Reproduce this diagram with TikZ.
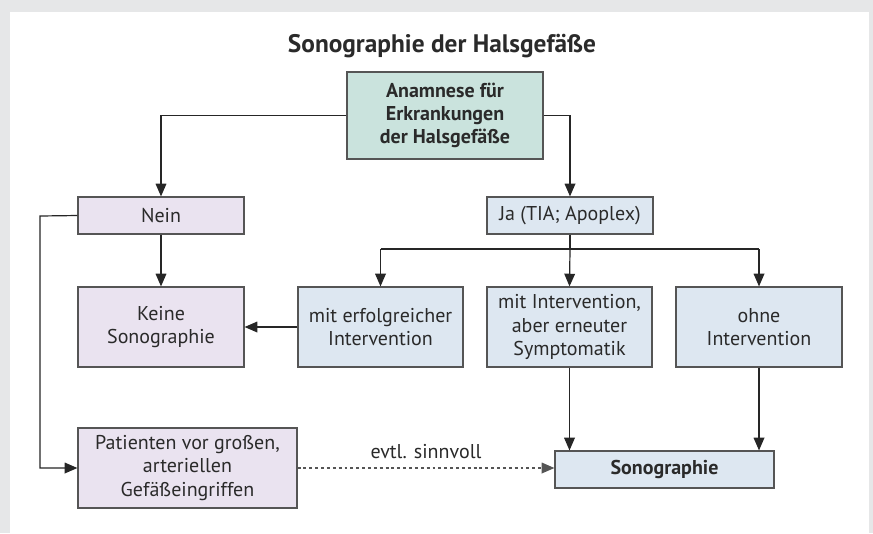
\documentclass[tikz,border=0pt]{standalone}
\usepackage{fontspec}
\setmainfont{PT Sans}
\usetikzlibrary{arrows.meta,calc}
\definecolor{bggray}{HTML}{E6E7E8}
\definecolor{tealbox}{HTML}{CAE3DD}
\definecolor{lavbox}{HTML}{EAE3F0}
\definecolor{bluebox}{HTML}{DDE7F1}
\definecolor{txt}{HTML}{2A2A2A}
\definecolor{edge}{HTML}{555555}
\definecolor{figblue}{HTML}{1A7DC0}
\tikzset{
  boxfont/.style={font=\fontsize{15}{17.5}\selectfont},
  box/.style={draw=edge, line width=0.9pt, align=center, text=txt, inner sep=0pt, boxfont},
  lav/.style={box, fill=lavbox},
  blu/.style={box, fill=bluebox},
  conn/.style={draw=txt!90!black, line width=0.9pt},
  arr/.style={conn, -{Triangle[length=9.5pt,width=8pt]}},
}
\begin{document}
\begin{tikzpicture}[x=0.75pt,y=-0.75pt]
\useasboundingbox (0,0) rectangle (873,533);
\fill[bggray] (0,0) rectangle (873,533);
\fill[white] (10,12) rectangle (869,533);
% cropped caption fragment
\draw[figblue, line width=1.4pt] (91,-1) arc[start angle=180,end angle=360,x radius=5,y radius=3.5];
% title
\node[text=txt, font=\fontsize{19}{22}\selectfont\bfseries] (title) at (442,46) {Sonographie der Halsgefäße};
% boxes
\node[box, fill=tealbox, minimum width=196*0.75pt, minimum height=87*0.75pt, font=\fontsize{15}{17.5}\selectfont\bfseries] (an) at (445,115.5) {Anamnese für\\Erkrankungen\\der Halsgefäße};
\node[lav, minimum width=166*0.75pt, minimum height=37*0.75pt] (nein) at (161,215.5) {Nein};
\node[blu, minimum width=166*0.75pt, minimum height=37*0.75pt] (ja) at (570,215.5) {Ja (TIA; Apoplex)};
\node[lav, minimum width=166*0.75pt, minimum height=80*0.75pt] (keine) at (161,327) {Keine\\Sonographie};
\node[blu, minimum width=165*0.75pt, minimum height=80*0.75pt] (mit1) at (380.5,327) {mit erfolgreicher\\Intervention};
\node[blu, minimum width=165*0.75pt, minimum height=80*0.75pt] (mit2) at (569.5,327) {mit Intervention,\\aber erneuter\\Symptomatik};
\node[blu, minimum width=166*0.75pt, minimum height=80*0.75pt] (ohne) at (759,327) {ohne\\Intervention};
\node[lav, minimum width=219*0.75pt, minimum height=80*0.75pt] (pat) at (187.5,468) {Patienten vor großen,\\arteriellen\\Gefäßeingriffen};
\node[blu, minimum width=219*0.75pt, minimum height=37*0.75pt, font=\fontsize{15}{17.5}\selectfont\bfseries] (sono) at (664.5,469.5) {Sonographie};
% coordinates
\coordinate (bar) at (570,249);
\coordinate (barL) at (380.5,249);
\coordinate (barR) at (759,249);
\coordinate (lft) at (40,216);
% connectors
\draw[arr] (an.west) -| (nein.north);
\draw[arr] (an.east) -| (ja.north);
\draw[arr] (nein.south) -- (keine.north);
\draw[conn] (ja.south) -- (bar);
\draw[conn] (barL) -- (barR);
\draw[arr] (barL) -- (mit1.north);
\draw[arr] (bar) -- (mit2.north);
\draw[arr] (barR) -- (ohne.north);
\draw[arr] (mit1.west) -- (keine.east);
\draw[arr] (nein.west) -- (lft) |- (pat.west);
\draw[arr] (mit2.south) -- (mit2.south |- sono.north);
\draw[arr] (ohne.south) -- (ohne.south |- sono.north);
\draw[arr, draw=edge, dash pattern=on 2.2pt off 2.2pt] (pat.east) -- node[above=3pt, text=txt, boxfont] (lbl) {evtl. sinnvoll} (pat.east -| sono.west);
\end{tikzpicture}
\end{document}
